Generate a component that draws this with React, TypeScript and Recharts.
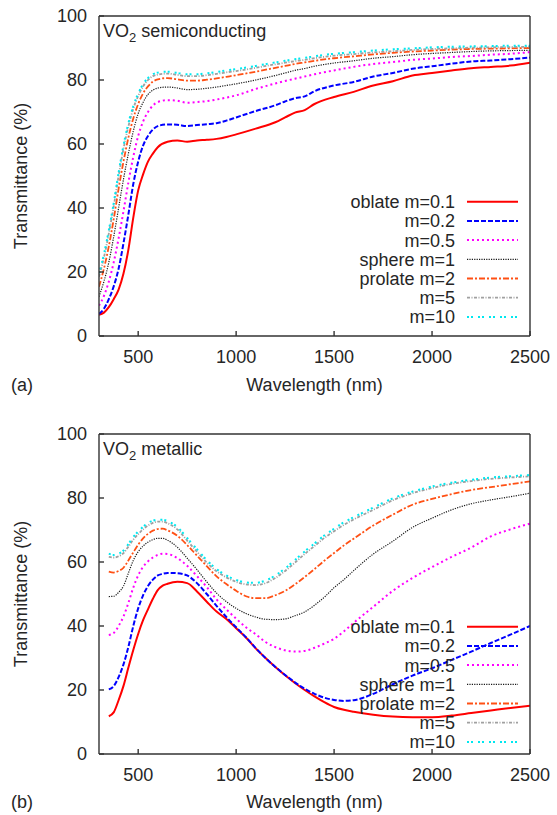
import { LineChart, Line, XAxis, YAxis } from 'recharts';

const seriesNames = ['oblate m=0.1', 'm=0.2', 'm=0.5', 'sphere m=1', 'prolate m=2', 'm=5', 'm=10'];
const xTicks = [500, 1000, 1500, 2000, 2500];
const yTicks = [0, 20, 40, 60, 80, 100];

// (a) VO2 semiconducting
const semiWl = [300, 325, 350, 375, 400, 425, 450, 475, 500, 525, 550, 575, 600, 650, 700, 750, 800, 850, 900, 950, 1000, 1100, 1200, 1250, 1300, 1350, 1400, 1500, 1600, 1700, 1800, 1900, 2000, 2100, 2200, 2300, 2400, 2500];
const semiM01 = [6.6, 7.3, 9.0, 11.5, 14.5, 19.5, 27, 37, 45.5, 50.5, 54.5, 57, 59, 60.7, 61.1, 60.7, 61.1, 61.3, 61.6, 62.2, 63.0, 64.8, 66.8, 68.3, 69.8, 70.6, 72.5, 74.7, 76.3, 78.3, 79.6, 81.4, 82.2, 83.0, 83.7, 84.1, 84.5, 85.4];
const semiM02 = [6.9, 8.5, 11.5, 15.5, 21, 29, 38, 47.5, 54.5, 59.5, 62.5, 64.5, 65.6, 66.1, 66.0, 65.6, 65.9, 66.2, 66.5, 67.3, 68.3, 70.3, 72.1, 73.3, 74.3, 74.9, 76.5, 78.3, 79.4, 81.1, 82.2, 83.5, 84.3, 85.1, 85.8, 86.1, 86.5, 87.0];
const semiM05 = [9.5, 12.5, 17, 23, 30.5, 39, 48, 56, 62.5, 67, 70, 72, 73.1, 73.7, 73.5, 72.9, 73.1, 73.4, 73.9, 74.5, 75.2, 77.2, 78.9, 79.7, 80.4, 81.1, 81.8, 83.0, 84.1, 85.0, 85.6, 86.3, 86.7, 87.2, 87.5, 87.9, 88.2, 88.7];
const semiM1 = [12.3, 17, 23, 31, 40, 49, 57, 64, 69.5, 73, 75.5, 76.8, 77.5, 77.8, 77.5, 77.0, 77.1, 77.4, 77.8, 78.3, 78.8, 80.0, 81.4, 82.2, 83.0, 83.6, 84.3, 85.3, 86.0, 86.8, 87.3, 87.9, 88.3, 88.6, 88.9, 89.1, 89.2, 89.3];
const semiM2 = [15.4, 21, 28, 36.5, 46, 54.5, 62, 68, 72.5, 75.8, 78, 79.5, 80.2, 80.6, 80.2, 79.8, 79.8, 80.1, 80.5, 81, 81.5, 82.6, 83.8, 84.4, 85.0, 85.5, 86.0, 86.8, 87.4, 88.0, 88.5, 88.9, 89.2, 89.5, 89.7, 89.8, 89.9, 90.0];
const semiM5 = [18.5, 24.5, 32, 40.5, 50, 58.5, 65.5, 71, 75, 78, 80, 81.2, 81.7, 82, 81.6, 81.2, 81.2, 81.5, 81.9, 82.4, 82.8, 83.8, 84.9, 85.4, 85.9, 86.3, 86.8, 87.6, 88.1, 88.6, 89.0, 89.4, 89.7, 89.9, 90.1, 90.2, 90.3, 90.4];
const semiM10 = [19.6, 25.5, 33, 41.5, 51, 59.5, 66.5, 71.8, 75.8, 78.7, 80.6, 81.8, 82.3, 82.6, 82.2, 81.8, 81.8, 82.1, 82.5, 83.0, 83.4, 84.4, 85.5, 86.0, 86.5, 86.9, 87.4, 88.2, 88.7, 89.2, 89.6, 89.9, 90.2, 90.4, 90.5, 90.6, 90.7, 90.7];

// (b) VO2 metallic
const metWl = [350, 375, 400, 425, 450, 475, 500, 525, 550, 575, 600, 625, 650, 700, 750, 800, 850, 900, 950, 1000, 1050, 1100, 1150, 1200, 1250, 1300, 1350, 1400, 1450, 1500, 1550, 1600, 1700, 1800, 1900, 2000, 2100, 2200, 2300, 2400, 2500];
const metM01 = [11.8, 13.0, 16.8, 21.3, 27, 32.5, 37.5, 41.8, 45.2, 48.5, 51.2, 52.6, 53.2, 53.8, 53.4, 50.8, 47.6, 44.5, 42.2, 39.3, 36.4, 33, 30, 27.2, 24.6, 22.2, 20, 18, 16.2, 14.7, 13.8, 13.2, 12.3, 11.7, 11.5, 11.5, 12.0, 12.8, 13.6, 14.4, 15.1];
const metM02 = [20.2, 21.2, 24, 28, 33.5, 40, 45.5, 49.6, 52.5, 54.5, 55.8, 56.3, 56.6, 56.5, 55.8, 53.4, 50, 46.3, 42.8, 39.6, 36.5, 33.1, 30, 27.2, 24.7, 22.4, 20.4, 18.8, 17.6, 16.9, 16.6, 16.8, 18.8, 21.8, 24.5, 26.8, 29.4, 32, 34.7, 37.3, 40];
const metM05 = [37.2, 37.8, 40, 43, 47.2, 52, 55.8, 58.5, 60.2, 61.4, 62.2, 62.6, 62.5, 61.2, 58.8, 55.6, 52.2, 48.3, 45.2, 42.3, 39.6, 37.4, 35, 33.4, 32.4, 32.0, 32.2, 33.2, 34.5, 36, 38.3, 41, 46, 51, 55, 58.4, 61.6, 64.5, 68, 70.2, 72];
const metM1 = [49.2, 49.3, 50.5, 52.5, 56.5, 60.5, 63.2, 65, 66.2, 67, 67.4, 67.4, 66.8, 64.6, 61.2, 57.6, 53.8, 50.3, 47.6, 45.5, 43.9, 42.8, 42.1, 42, 42.2, 43.2, 44.4, 46.5, 49, 52, 54.5, 57.3, 62.5, 66.5, 70.8, 73.7, 76.3, 78.2, 79.4, 80.4, 81.5];
const metM2 = [57, 56.7, 57.2, 58.2, 60.5, 63, 65.4, 67.4, 68.8, 69.8, 70.3, 70.4, 69.9, 68.2, 65.3, 62, 58.7, 55.5, 53.1, 51, 49.3, 48.7, 48.7, 49.6, 51, 53, 55.3, 57.8, 60.4, 62.8, 65.2, 67.3, 71.4, 74.8, 77.9, 79.7, 81.2, 82.5, 83.4, 84.3, 85.2];
const metM5 = [61.6, 61.4, 61.8, 62.8, 64.8, 67, 68.7, 70.2, 71.4, 72.2, 72.6, 72.6, 72.1, 70.2, 66.7, 63.2, 59.8, 57.1, 55.2, 53.8, 53, 52.8, 53.4, 55, 57.2, 59.8, 62.5, 65, 67.5, 69.6, 71.6, 73.3, 76.3, 79.3, 81.5, 83.1, 84.4, 85.3, 86, 86.4, 86.8];
const metM10 = [62.6, 62.2, 62.6, 63.6, 65.6, 67.8, 69.5, 71, 72.2, 72.9, 73.2, 73.2, 72.8, 70.9, 67.5, 64, 60.6, 57.8, 55.8, 54.4, 53.6, 53.5, 54.2, 55.8, 58.0, 60.6, 63.3, 65.8, 68.3, 70.4, 72.4, 74, 77, 79.9, 82, 83.6, 84.8, 85.7, 86.4, 86.8, 87.2];

const lineStyles = [
  { color: '#ff0000', dash: undefined, width: 2 },
  { color: '#0000ff', dash: '5 2', width: 2 },
  { color: '#ff00ff', dash: '2 3', width: 2 },
  { color: '#1a1a1a', dash: '1.2 1.2', width: 1.2 },
  { color: '#ff5014', dash: '6 2 2 2', width: 1.8 },
  { color: '#a0a0a0', dash: '3 1.5 1 1.5', width: 1.8 },
  { color: '#00e8f0', dash: '2 2 2 5', width: 2 },
];

const keys = ['s0', 's1', 's2', 's3', 's4', 's5', 's6'];

function buildRows(wl: number[], series: number[][]) {
  return wl.map((w, i) => {
    const row: Record<string, number> = { wl: w };
    series.forEach((s, k) => (row[keys[k]] = s[i]));
    return row;
  });
}

const semiRows = buildRows(semiWl, [semiM01, semiM02, semiM05, semiM1, semiM2, semiM5, semiM10]);
const metRows = buildRows(metWl, [metM01, metM02, metM05, metM1, metM2, metM5, metM10]);

const FONT = '"Liberation Sans", Arial, Helvetica, sans-serif';
const INK = '#262626';
const AXIS = '#333';

interface PanelProps {
  rows: Record<string, number>[];
  height: number;
  topPad: number;
}

function Panel({ rows, height, topPad }: PanelProps) {
  const plotH = 320;
  return (
    <LineChart width={557} height={height} data={rows} margin={{ top: 0, right: 0, bottom: 0, left: 0 }}>
      <XAxis
        xAxisId="b"
        dataKey="wl"
        type="number"
        domain={[300, 2500]}
        ticks={xTicks}
        allowDataOverflow
        height={height - topPad - plotH}
        tickSize={-5}
        tickMargin={19}
        stroke={AXIS}
        strokeWidth={1.4}
        tick={{ fill: INK, fontSize: 18, fontFamily: FONT }}
      />
      <XAxis
        xAxisId="t"
        orientation="top"
        dataKey="wl"
        type="number"
        domain={[300, 2500]}
        ticks={xTicks}
        allowDataOverflow
        height={topPad}
        tickSize={-5}
        stroke={AXIS}
        strokeWidth={1.4}
        tick={false}
      />
      <YAxis
        yAxisId="l"
        type="number"
        domain={[0, 100]}
        ticks={yTicks}
        width={99}
        tickSize={-5}
        tickMargin={17}
        stroke={AXIS}
        strokeWidth={1.4}
        tick={{ fill: INK, fontSize: 18, fontFamily: FONT }}
      />
      <YAxis
        yAxisId="r"
        orientation="right"
        type="number"
        domain={[0, 100]}
        ticks={yTicks}
        width={27}
        tickSize={-5}
        stroke={AXIS}
        strokeWidth={1.4}
        tick={false}
      />
      {keys.map((k, i) => (
        <Line
          key={k}
          xAxisId="b"
          yAxisId="l"
          dataKey={k}
          name={seriesNames[i]}
          type="monotone"
          stroke={lineStyles[i].color}
          strokeDasharray={lineStyles[i].dash}
          strokeWidth={lineStyles[i].width}
          dot={false}
          activeDot={false}
          isAnimationActive={false}
        />
      ))}
    </LineChart>
  );
}

function LegendBlock({ y0 }: { y0: number }) {
  return (
    <g>
      {seriesNames.map((n, i) => {
        const y = y0 + i * 19.2;
        const st = lineStyles[i];
        return (
          <g key={n}>
            <text x={455} y={y + 6.5} textAnchor="end" fontSize={18} fill={INK} fontFamily={FONT}>
              {n}
            </text>
            <line x1={467} x2={518} y1={y} y2={y} stroke={st.color} strokeWidth={st.width} strokeDasharray={st.dash} />
          </g>
        );
      })}
    </g>
  );
}

function Overlay() {
  return (
    <svg width={557} height={815} style={{ position: 'absolute', left: 0, top: 0, pointerEvents: 'none' }}>
      <g fontFamily={FONT} fill={INK} fontSize={18}>
        <text x={103} y={37}>
          VO<tspan dy={5} fontSize={13}>2</tspan>
          <tspan dy={-5}> semiconducting</tspan>
        </text>
        <text x={103} y={455}>
          VO<tspan dy={5} fontSize={13}>2</tspan>
          <tspan dy={-5}> metallic</tspan>
        </text>
        <text transform="translate(27,176) rotate(-90)" textAnchor="middle">Transmittance (%)</text>
        <text transform="translate(27,594) rotate(-90)" textAnchor="middle">Transmittance (%)</text>
        <text x={314.5} y={391} textAnchor="middle">Wavelength (nm)</text>
        <text x={314.5} y={808} textAnchor="middle">Wavelength (nm)</text>
        <text x={11} y={391}>(a)</text>
        <text x={11} y={808}>(b)</text>
      </g>
      <LegendBlock y0={201.7} />
      <LegendBlock y0={626.7} />
    </svg>
  );
}

export default function App() {
  return (
    <div style={{ position: 'absolute', left: 0, top: 0, width: 557, height: 815, background: '#fff', fontFamily: FONT }}>
      <div style={{ position: 'absolute', left: 0, top: 0 }}>
        <Panel rows={semiRows} height={400} topPad={16} />
      </div>
      <div style={{ position: 'absolute', left: 0, top: 400 }}>
        <Panel rows={metRows} height={415} topPad={34} />
      </div>
      <Overlay />
    </div>
  );
}
